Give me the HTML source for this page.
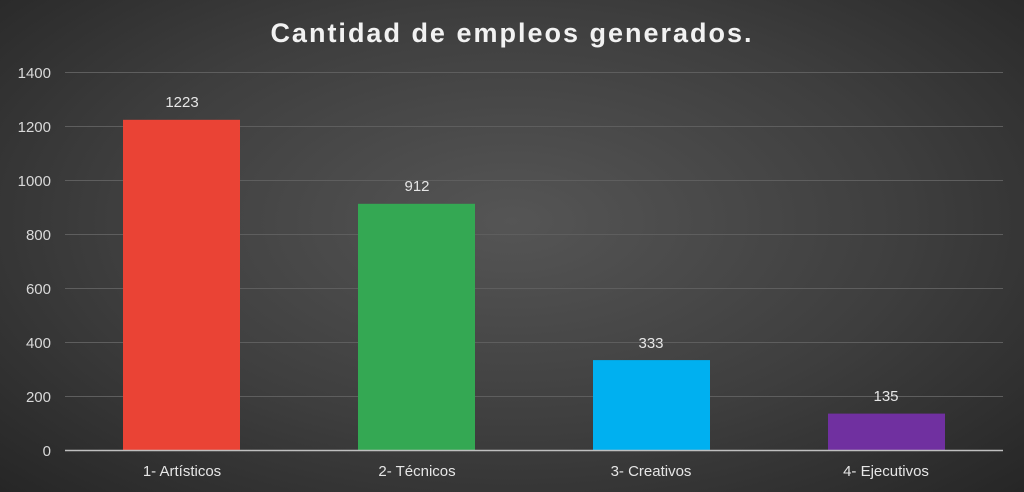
<!DOCTYPE html>
<html><head><meta charset="utf-8"><style>
html,body{margin:0;padding:0;}
body{width:1024px;height:492px;overflow:hidden;background:radial-gradient(ellipse at 50% 45%,#555 0%,#3e3e3e 55%,#262626 100%);font-family:"Liberation Sans",Arial,sans-serif;}
</style></head><body>
<svg width="1024" height="492" viewBox="0 0 1024 492" xmlns="http://www.w3.org/2000/svg" style="position:absolute;left:0;top:0">
<text x="512" y="42" text-anchor="middle" fill="#f2f2f2" font-size="27" font-weight="bold" letter-spacing="2" font-family="Liberation Sans, sans-serif">Cantidad de empleos generados.</text>
<g stroke="#5e5e5e" stroke-width="1">
<line x1="65" y1="72.5" x2="1003" y2="72.5"/>
<line x1="65" y1="126.5" x2="1003" y2="126.5"/>
<line x1="65" y1="180.5" x2="1003" y2="180.5"/>
<line x1="65" y1="234.5" x2="1003" y2="234.5"/>
<line x1="65" y1="288.5" x2="1003" y2="288.5"/>
<line x1="65" y1="342.5" x2="1003" y2="342.5"/>
<line x1="65" y1="396.5" x2="1003" y2="396.5"/>
</g>
<g fill="#d9d9d9" font-size="15" text-anchor="end" font-family="Liberation Sans, sans-serif">
<text x="51" y="78">1400</text>
<text x="51" y="132">1200</text>
<text x="51" y="186">1000</text>
<text x="51" y="240">800</text>
<text x="51" y="294">600</text>
<text x="51" y="348">400</text>
<text x="51" y="402">200</text>
<text x="51" y="456">0</text>
</g>
<rect x="123" y="119.8" width="117" height="330.2" fill="#ea4335"/>
<rect x="358" y="203.8" width="117" height="246.2" fill="#34a853"/>
<rect x="593" y="360.1" width="117" height="89.9" fill="#00b0f0"/>
<rect x="828" y="413.6" width="117" height="36.4" fill="#7030a0"/>
<line x1="65" y1="450.5" x2="1003" y2="450.5" stroke="#bfbfbf" stroke-width="1.5"/>
<g fill="#e6e6e6" font-size="15" text-anchor="middle" font-family="Liberation Sans, sans-serif">
<text x="182" y="107">1223</text>
<text x="417" y="191">912</text>
<text x="651" y="348">333</text>
<text x="886" y="401">135</text>
<text x="182" y="476">1- Artísticos</text>
<text x="417" y="476">2- Técnicos</text>
<text x="651" y="476">3- Creativos</text>
<text x="886" y="476">4- Ejecutivos</text>
</g>
</svg>
</body></html>
